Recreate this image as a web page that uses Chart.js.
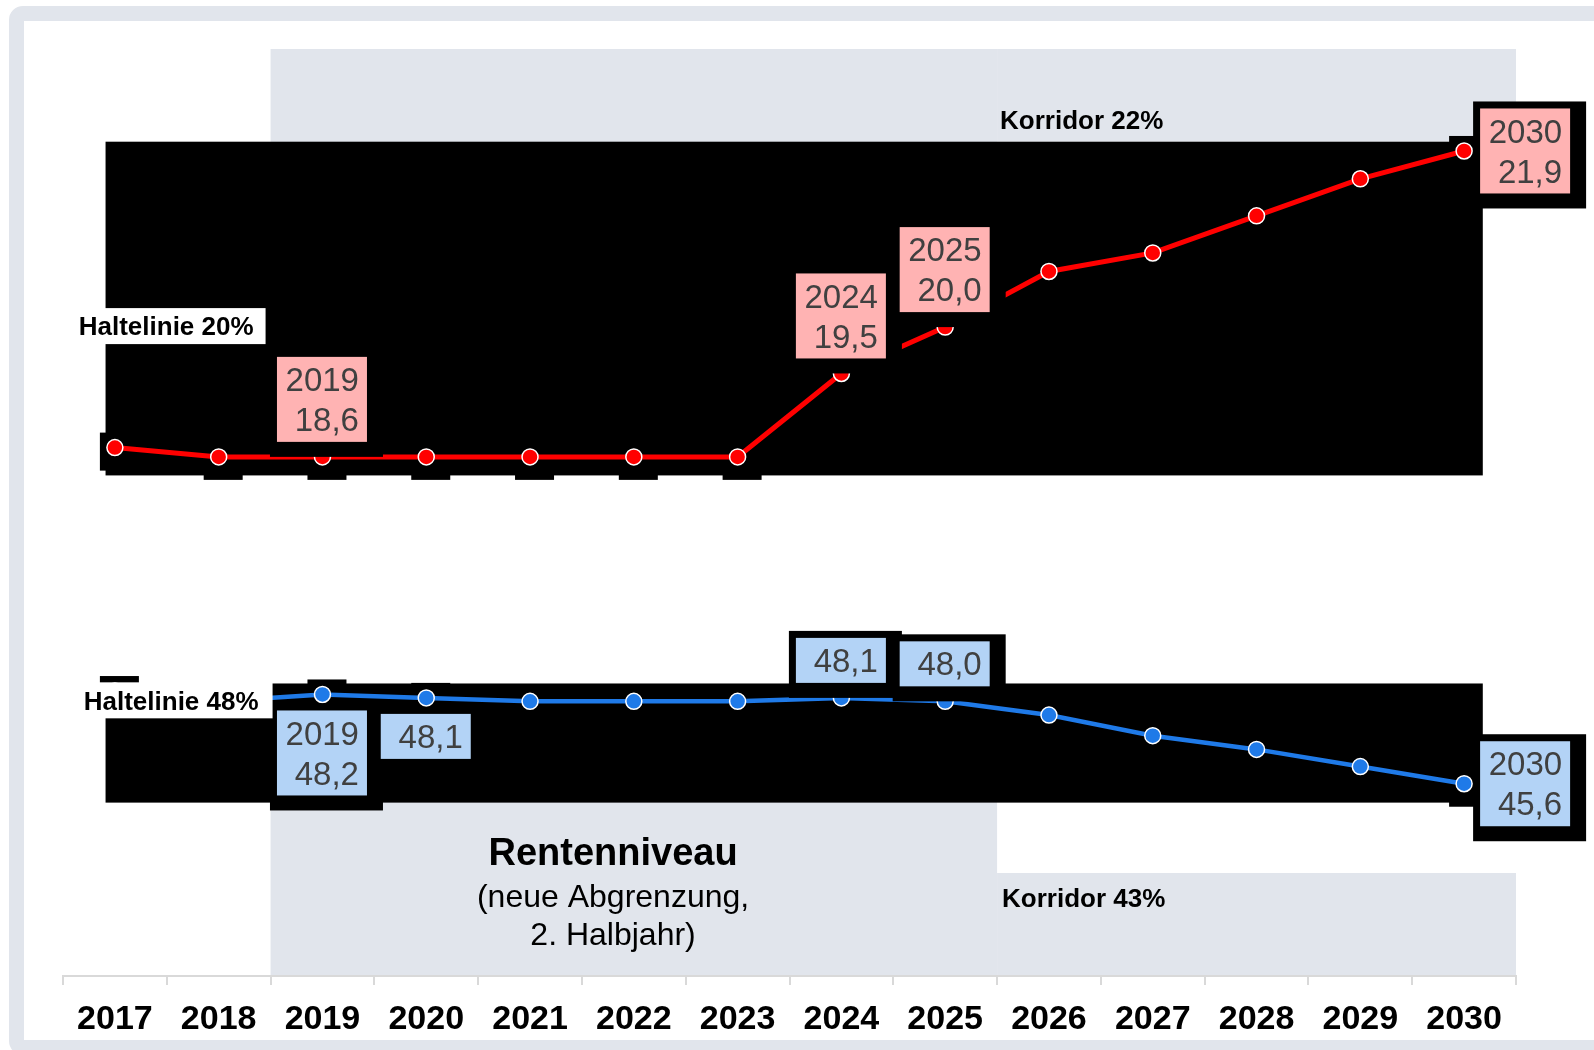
<!DOCTYPE html>
<html>
<head>
<meta charset="utf-8">
<script src="https://cdn.jsdelivr.net/npm/chart.js@4.4.1/dist/chart.umd.min.js"></script>
<style>
  html, body { margin: 0; padding: 0; background: #fff; }
  #frame { position: absolute; left: 9px; top: 6px; width: 1700px; height: 1049px; box-sizing: border-box;
           border: 15px solid #e1e5ec; border-radius: 14px; }
  #wrap { position: absolute; left: 0; top: 0; width: 1594px; height: 1050px; }
</style>
</head>
<body>
<div id="frame"></div>
<div id="wrap"><canvas id="chart" width="1594" height="1050"></canvas></div>
<script>
const YEARS = ["2017", "2018", "2019", "2020", "2021", "2022", "2023", "2024", "2025", "2026", "2027", "2028", "2029", "2030"];
const BEITRAGSSATZ = [18.7, 18.6, 18.6, 18.6, 18.6, 18.6, 18.6, 19.5, 20.0, 20.6, 20.8, 21.2, 21.6, 21.9];
const RENTENNIVEAU = [48.3, 48.0, 48.2, 48.1, 48.0, 48.0, 48.0, 48.1, 48.0, 47.6, 47.0, 46.6, 46.1, 45.6];

// Haltelinie / Korridor for Beitragssatz and Rentenniveau
const HALTELINIEN = [20, 48];
const KORRIDORE = [22, 43];
const BAND_FROM = "2019";
const HALTE_UNTIL = "2025";

const LABELS_BEITRAG = ["2019", "2024", "2025", "2030"];
const LABELS_NIVEAU = ["2019", "2020", "2024", "2025", "2030"];

const FONT = "'Liberation Sans', Arial, sans-serif";
const GREY = "#e1e5ec";
const RED = "#ff0000";
const BLUE = "#1f7ae8";

// where each value box sits and whether it shows the year
const PLACE = [
  { "2019": ["above", 1], "2024": ["above", 1], "2025": ["above", 1], "2030": ["right", 1] },
  { "2019": ["below", 1], "2020": ["below", 0], "2024": ["above", 0], "2025": ["above", 0], "2030": ["right", 1] },
];
const BOX_FILL = ["#ffb3b3", "#b3d3f6"];

const fmt = (v) => v.toFixed(1).replace(".", ",");

const decor = {
  id: "decor",
  beforeDatasetsDraw(chart) {
    const { ctx, chartArea: a, scales } = chart;
    const { x, yB, yN } = scales;
    const half = (x.getPixelForValue(1) - x.getPixelForValue(0)) / 2;
    const l = x.getPixelForValue(YEARS.indexOf(BAND_FROM)) - half;
    const m = x.getPixelForValue(YEARS.indexOf(HALTE_UNTIL)) + half;
    const r = x.getPixelForValue(YEARS.length - 1) + half;
    ctx.save();
    ctx.fillStyle = GREY;
    ctx.fillRect(l, a.top, m - l, yB.getPixelForValue(HALTELINIEN[0]) - a.top);
    ctx.fillRect(m, a.top, r - m, yB.getPixelForValue(KORRIDORE[0]) - a.top);
    let yy = yN.getPixelForValue(HALTELINIEN[1]);
    ctx.fillRect(l, yy, m - l, a.bottom - 1 - yy);
    yy = yN.getPixelForValue(KORRIDORE[1]);
    ctx.fillRect(m, yy, r - m, a.bottom - 1 - yy);

    // dark plot panels
    ctx.fillStyle = "#000";
    const px0 = x.getPixelForValue(-0.09), px1 = x.getPixelForValue(13.18);
    [[yB, 22.0, 18.4], [yN, 48.52, 45.05]].forEach(([s, hi, lo]) => {
      const t = s.getPixelForValue(hi);
      ctx.fillRect(px0, t, px1 - px0, s.getPixelForValue(lo) - t);
    });
    chart.data.datasets.forEach((ds, di) => {
      chart.getDatasetMeta(di).data.forEach((p) => ctx.fillRect(p.x - 15, p.y - 15, 39, 38));
    });
    ctx.restore();
  },
  afterDatasetsDraw(chart) {
    const { ctx, chartArea: a, scales } = chart;
    const { x, yB, yN } = scales;
    const half = (x.getPixelForValue(1) - x.getPixelForValue(0)) / 2;
    const l = x.getPixelForValue(YEARS.indexOf(BAND_FROM)) - half;
    const m = x.getPixelForValue(YEARS.indexOf(HALTE_UNTIL)) + half;
    ctx.save();

    // value boxes
    [LABELS_BEITRAG, LABELS_NIVEAU].forEach((years, di) => {
      const meta = chart.getDatasetMeta(di);
      const values = chart.data.datasets[di].data;
      years.forEach((yr) => {
        const i = YEARS.indexOf(yr);
        const p = meta.data[i];
        const [pos, withYear] = PLACE[di][yr];
        const lines = withYear ? [yr, fmt(values[i])] : [fmt(values[i])];
        const w = 90, h = lines.length * 40 + 5;
        let bx = p.x - 45.5, by;
        if (pos === "above") by = p.y - 15 - h;
        else if (pos === "below") by = p.y + 16;
        else { bx = p.x + 16; by = p.y - h / 2; }
        ctx.fillStyle = "#000";
        ctx.fillRect(bx - 7, by - 7, w + 23, h + 22);
        ctx.fillStyle = BOX_FILL[di];
        ctx.fillRect(bx, by, w, h);
        ctx.fillStyle = "#404040";
        ctx.font = `33px ${FONT}`;
        ctx.textAlign = "right";
        ctx.textBaseline = "middle";
        lines.forEach((t, k) => ctx.fillText(t, bx + w - 8, by + 25 + 40 * k));
      });
    });

    // Haltelinie tags
    ctx.font = `bold 26px ${FONT}`;
    ctx.textBaseline = "middle";
    ctx.textAlign = "right";
    [[yB, HALTELINIEN[0], -5, -17], [yN, HALTELINIEN[1], 2, -12]].forEach(([s, v, boxR, txtR]) => {
      const cy = s.getPixelForValue(v);
      ctx.fillStyle = "#fff";
      ctx.fillRect(72, cy - 19, l + boxR - 72, 36);
      ctx.fillStyle = "#000";
      ctx.fillText(`Haltelinie ${v}%`, l + txtR, cy + 1);
    });

    // Korridor tags
    ctx.textAlign = "left";
    ctx.fillText(`Korridor ${KORRIDORE[0]}%`, m + 3, yB.getPixelForValue(KORRIDORE[0]) - 20);
    ctx.fillText(`Korridor ${KORRIDORE[1]}%`, m + 5, yN.getPixelForValue(KORRIDORE[1]) + 27);

    // series caption
    const cx = x.getPixelForValue(4.8);
    ctx.textAlign = "center";
    ctx.font = `bold 38px ${FONT}`;
    ctx.fillText("Rentenniveau", cx, a.bottom - 121);
    ctx.font = `32px ${FONT}`;
    ctx.fillText("(neue Abgrenzung,", cx, a.bottom - 78);
    ctx.fillText("2. Halbjahr)", cx, a.bottom - 40);
    ctx.restore();
  },
};

new Chart(document.getElementById("chart"), {
  type: "line",
  data: {
    labels: YEARS,
    datasets: [
      {
        label: "Beitragssatz",
        data: BEITRAGSSATZ,
        yAxisID: "yB",
        borderColor: RED,
        backgroundColor: RED,
        borderWidth: 5,
        pointRadius: 8,
        pointBorderWidth: 1.5,
        pointBorderColor: "#fff",
        pointBackgroundColor: RED,
        tension: 0,
      },
      {
        label: "Rentenniveau",
        data: RENTENNIVEAU,
        yAxisID: "yN",
        borderColor: BLUE,
        backgroundColor: BLUE,
        borderWidth: 4.5,
        pointRadius: 8,
        pointBorderWidth: 1.5,
        pointBorderColor: "#fff",
        pointBackgroundColor: BLUE,
        tension: 0,
      },
    ],
  },
  options: {
    responsive: false,
    animation: false,
    events: [],
    layout: { padding: { left: 63, right: 78, top: 49, bottom: 0 } },
    plugins: { legend: { display: false }, tooltip: { enabled: false } },
    scales: {
      x: {
        offset: true,
        afterFit: (scale) => { scale.height = 74; },
        grid: { offset: true, drawOnChartArea: false, drawTicks: true, tickLength: 9, color: "#d9d9d9", lineWidth: 2 },
        border: { display: true, color: "#d9d9d9", width: 2 },
        ticks: { font: { family: FONT, size: 34, weight: "bold" }, color: "#000", padding: 14, maxRotation: 0, autoSkip: false },
      },
      yB: { type: "linear", display: false, min: 13, max: 23 },
      yN: { type: "linear", display: false, min: 40, max: 67 },
    },
  },
  plugins: [decor],
});
</script>
</body>
</html>
